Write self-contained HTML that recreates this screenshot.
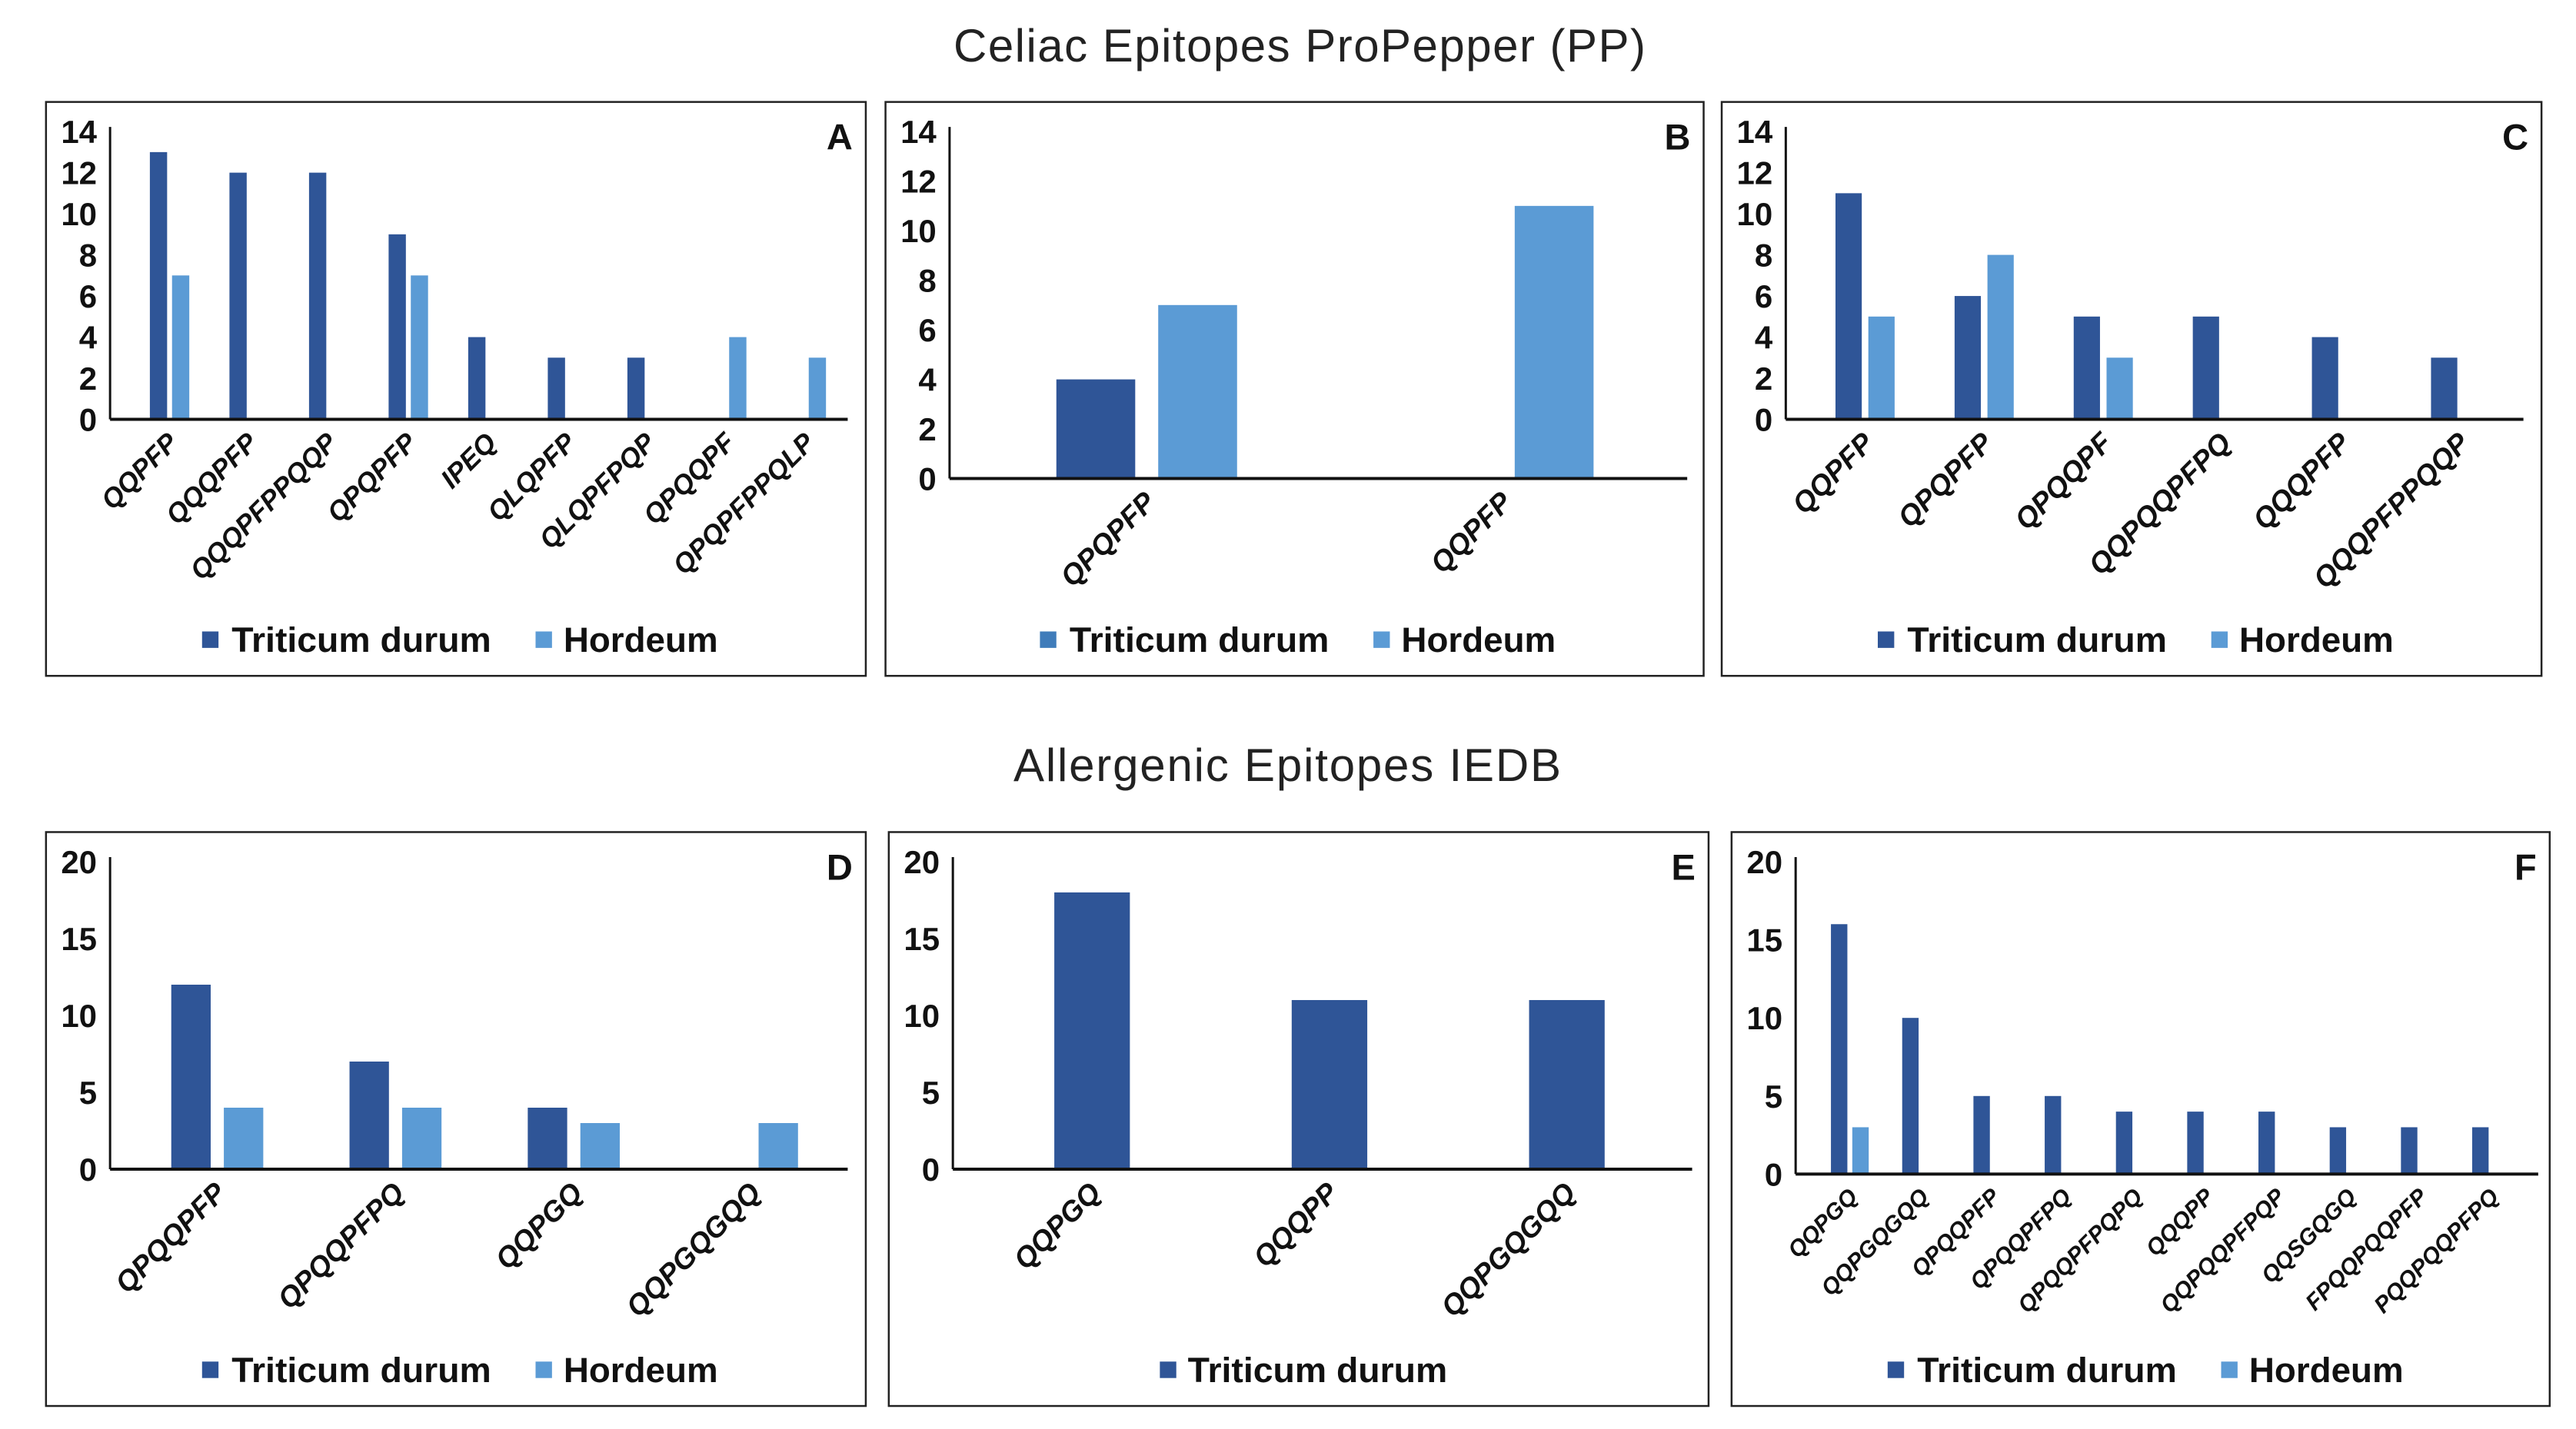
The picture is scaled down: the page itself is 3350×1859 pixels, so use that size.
<!DOCTYPE html>
<html><head><meta charset="utf-8"><style>
html,body{margin:0;padding:0;background:#fff;}
svg{display:block;}
text{font-family:"Liberation Sans",Arial,sans-serif;}
</style></head><body>
<svg id="fig" width="3350" height="1859" viewBox="0 0 3350 1859" xmlns="http://www.w3.org/2000/svg">
<rect width="3350" height="1859" fill="#fff"/>
<text x="1690" y="80" font-size="60" text-anchor="middle" textLength="900" fill="#222">Celiac Epitopes ProPepper (PP)</text>
<text x="1674" y="1016" font-size="60" text-anchor="middle" textLength="712" fill="#222">Allergenic Epitopes IEDB</text>
</svg>
<script>
const K = 3350/1568;
const KY = 1859/869;
const DARK = "#2f5597", LIGHT = "#5b9bd5";

// ---- data ----
const catsA = ["QQPFP","QQQPFP","QQQPFPPQQP","QPQPFP","IPEQ","QLQPFP","QLQPFPQP","QPQQPF","QPQPFPPQLP"];
const triA = [13,12,12,9,4,3,3,0,0];
const horA = [7,0,0,7,0,0,0,4,3];
const catsB = ["QPQPFP","QQPFP"];
const triB = [4,0];
const horB = [7,11];
const catsC = ["QQPFP","QPQPFP","QPQQPF","QQPQQPFPQ","QQQPFP","QQQPFPPQQP"];
const triC = [11,6,5,5,4,3];
const horC = [5,8,3,0,0,0];
const catsD = ["QPQQPFP","QPQQPFPQ","QQPGQ","QQPGQGQQ"];
const triD = [12,7,4,0];
const horD = [4,4,3,3];
const catsE = ["QQPGQ","QQQPP","QQPGQGQQ"];
const triE = [18,11,11];
const catsF = ["QQPGQ","QQPGQGQQ","QPQQPFP","QPQQPFPQ","QPQQPFPQPQ","QQQPP","QQPQQPFPQP","QQSGQGQ","FPQQPQQPFP","PQQPQQPFPQ"];
const triF = [16,10,5,5,4,4,4,3,3,3];
const horF = [3,0,0,0,0,0,0,0,0,0];
const ticksCeliac = [0,2,4,6,8,10,12,14];
const ticksAllergen = [0,5,10,15,20];

// ---- layout (preview units) ----
const panels = [
 {id:"a",letter:"A",box:[28,62,527,411],ax:67,zero:255,top:80,max:14,pl:79,pr:515,right:516,bw:10.5,gap:3,cats:catsA,s1:triA,s2:horA,ticks:ticksCeliac,lf:16.5,leg:[123,141,326,343,389],legc:[DARK,LIGHT]},
 {id:"b",letter:"B",box:[539,62,1037,411],ax:578,zero:291,top:80,max:14,pl:589.5,pr:1023.5,right:1027,bw:48,gap:14,cats:catsB,s1:triB,s2:horB,ticks:ticksCeliac,lf:17.5,leg:[633,651,836,853,389],legc:["#3f7cba",LIGHT]},
 {id:"c",letter:"C",box:[1048,62,1547,411],ax:1087,zero:255,top:80,max:14,pl:1099,pr:1534,right:1536,bw:16,gap:4,cats:catsC,s1:triC,s2:horC,ticks:ticksCeliac,lf:17.5,leg:[1143,1161,1346,1363,389],legc:[DARK,LIGHT]},
 {id:"d",letter:"D",box:[28,506,527,855],ax:67,zero:711,top:524,max:20,pl:78,pr:512,right:516,bw:24,gap:8,cats:catsD,s1:triD,s2:horD,ticks:ticksAllergen,lf:17.5,leg:[123,141,326,343,833],legc:[DARK,LIGHT]},
 {id:"e",letter:"E",box:[541,506,1040,855],ax:580,zero:711,top:524,max:20,pl:592.5,pr:1026,right:1030,bw:46,gap:0,cats:catsE,s1:triE,s2:null,ticks:ticksAllergen,lf:17.5,leg:[706,723,0,0,833],legc:[DARK]},
 {id:"f",letter:"F",box:[1054,506,1552,855],ax:1093,zero:714,top:524,max:20,pl:1104.3,pr:1538,right:1545,bw:10,gap:3,cats:catsF,s1:triF,s2:horF,ticks:ticksAllergen,lf:14,leg:[1149,1167,1352,1369,833],legc:[DARK,LIGHT]}
];

const NS="http://www.w3.org/2000/svg";
const svg=document.getElementById("fig");
function mk(tag,attrs,parent){const e=document.createElementNS(NS,tag);for(const k in attrs)e.setAttribute(k,attrs[k]);(parent||svg).appendChild(e);return e;}

panels.forEach(p=>{
  const g=mk("g",{});
  
  
  const [x0,y0,x1,y1]=p.box;
  const box=mk("rect",{x:x0*K,y:y0*KY,width:(x1-x0)*K,height:(y1-y0)*KY,fill:"none",stroke:"#222","stroke-width":2.5},g);
  
  
  const yS=v=>(p.zero-(p.zero-p.top)*v/p.max)*KY;
  const n=p.cats.length, cw=(p.pr-p.pl)/n;
  const xC=i=>(p.pl+cw*(i+0.5))*K;
  p.ticks.forEach(t=>{
    const tx=mk("text",{x:(p.ax-8)*K,y:yS(t)+15,"font-size":42,"font-weight":"bold","text-anchor":"end",fill:"#111"},g);
    
    
    tx.textContent=t;
  });
  const bw=p.bw*K, gap=p.gap*K;
  p.s1.forEach((v,i)=>{
    const c=xC(i);
    const left = p.s2 ? c-bw-gap/2 : c-bw/2;
    if(v>0){
      const r=mk("rect",{x:left,y:yS(v),width:bw,height:yS(0)-yS(v),fill:DARK},g);
      
      
    }
    if(p.s2 && p.s2[i]>0){
      const w=p.s2[i];
      const r=mk("rect",{x:c+gap/2,y:yS(w),width:bw,height:yS(0)-yS(w),fill:LIGHT},g);
      
      
    }
    const lx=c, ly=yS(0)+13*KY;
    const lt=mk("text",{x:lx+6,y:ly+p.lf*K*0.35,"font-size":p.lf*K,"font-weight":"bold","font-style":"italic","text-anchor":"end",fill:"#111",transform:`rotate(-45 ${lx} ${ly})`},g);
    
    
    lt.textContent=p.cats[i];
  });
  const ya=mk("line",{x1:p.ax*K,y1:yS(p.max)-6,x2:p.ax*K,y2:yS(0),stroke:"#111","stroke-width":3},g);
  
  
  const xa=mk("line",{x1:p.ax*K,y1:yS(0),x2:p.right*K,y2:yS(0),stroke:"#111","stroke-width":4},g);
  
  
  const L=mk("text",{x:(x1-8)*K,y:(y0+29)*KY,"font-size":47,"font-weight":"bold","text-anchor":"end",fill:"#111"},g);
  
  
  L.textContent=p.letter;
  const [s1x,t1x,s2x,t2x,ly]=p.leg;
  const lg=mk("g",{},g);
  
  
  const sq1=mk("rect",{x:s1x*K,y:(ly-5)*KY,width:10*K,height:10*KY,fill:p.legc[0]},lg);
  
  
  const lt1=mk("text",{x:t1x*K,y:(ly+7.5)*KY,"font-size":45,"font-weight":"bold",textLength:158*K,lengthAdjust:"spacingAndGlyphs",fill:"#111"},lg);
  
  
  lt1.textContent="Triticum durum";
  if(p.s2){
    const sq2=mk("rect",{x:s2x*K,y:(ly-5)*KY,width:10*K,height:10*KY,fill:p.legc[1]},lg);
    
    
    const lt2=mk("text",{x:t2x*K,y:(ly+7.5)*KY,"font-size":45,"font-weight":"bold",textLength:94*K,lengthAdjust:"spacingAndGlyphs",fill:"#111"},lg);
    
    
    lt2.textContent="Hordeum";
  }
});
</script>
</body></html>
